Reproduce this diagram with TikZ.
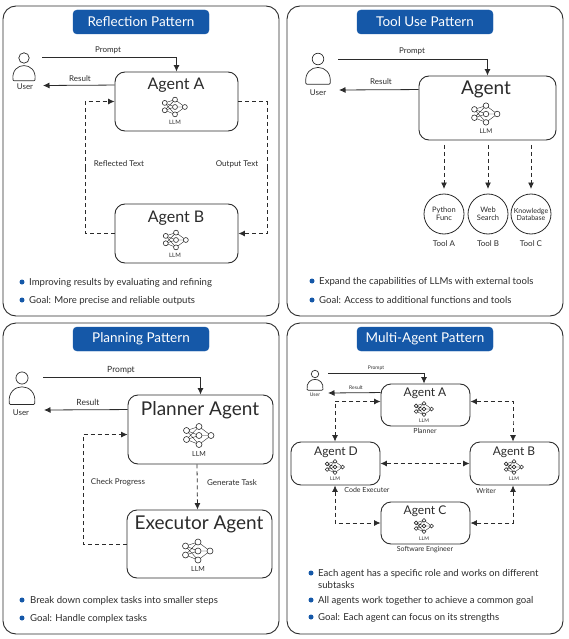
\documentclass[tikz,border=0pt]{standalone}
\usepackage{fontspec}
\setmainfont{Lato}
\usetikzlibrary{arrows.meta}

\definecolor{inkc}{HTML}{2B2B2B}
\definecolor{bluec}{HTML}{1558A8}

\newcommand{\fs}[1]{\fontsize{#1}{#1}\selectfont}

\tikzset{
    x=1pt, y=-1pt,
    panel/.style={draw=inkc, line width=0.9pt, rounded corners=13pt, minimum width=276pt, minimum height=#1, inner sep=0pt},
    banner/.style={fill=bluec, draw=bluec, rounded corners=4pt, minimum width=136pt, minimum height=24pt, inner sep=0pt, text=white, font=\fs{13.5}},
    agent/.style={draw=inkc, line width=0.9pt, rounded corners=10pt, inner sep=0pt},
    tool/.style={circle, draw=inkc, line width=0.8pt, minimum size=40pt, inner sep=0pt, align=center, font=\fs{7.5}, text=inkc},
    lbl/.style={text=inkc, inner sep=0pt, font=\fs{#1}},
    lbl/.default=8,
    tip/.style={circle, fill=bluec, minimum size=5pt, inner sep=0pt},
    tiptext/.style={anchor=base west, text=inkc, inner sep=0pt, font=\fs{9.6}},
    flow/.style={draw=inkc, line width=0.8pt, -{Latex[length=6.5pt,width=6pt]}},
    dashflow/.style={flow, dash pattern=on 4pt off 3pt},
    twoway/.style={dashflow, {Latex[length=6.5pt,width=6pt]}-{Latex[length=6.5pt,width=6pt]}},
    deadend/.style={draw=inkc, line width=0.8pt, dash pattern=on 4pt off 3pt},
    user/.pic={
        \draw[inkc, line width=0.7pt] (0,0) circle (5.5);
        \draw[inkc, line width=0.7pt, rounded corners=1pt] (-11.5,24) .. controls (-14,3) and (14,3) .. (11.5,24) -- cycle;
    },
    llm/.pic={
        \draw[inkc, line width=0.4pt]
            \foreach \a in {-5,4} { \foreach \b in {-9,0,9} { (-12.5,\a) -- (0,\b) } }
            \foreach \b in {-9,0,9} { (0,\b) -- (12,0) };
        \foreach \p/\q in {-12.5/-5, -12.5/4, 0/-9, 0/0, 0/9, 12/0}
            \draw[inkc, line width=0.6pt, fill=white] (\p,\q) circle (3);
    },
}

\begin{document}
\begin{tikzpicture}
    \useasboundingbox (0,0) rectangle (568,639);

    % panels
    \node[panel=310pt] (p1) at (141,161) {};
    \node[panel=310pt] (p2) at (425,161) {};
    \node[panel=311pt] (p3) at (141,478.5) {};
    \node[panel=311pt] (p4) at (425,478.5) {};
    \node[banner] (t1) at (141,22) {Reflection Pattern};
    \node[banner] (t2) at (425,22) {Tool Use Pattern};
    \node[banner] (t3) at (141,339) {Planning Pattern};
    \node[banner] (t4) at (425,339) {Multi-Agent Pattern};

    % reflection
    \pic[scale=.95] at (24,58) {user};
    \node[lbl] (ru) at (25,87) {User};
    \coordinate (rfrom) at (42,57.5);
    \coordinate (rto) at (43,85.5);
    \coordinate (rl) at (85,168);
    \coordinate (rr) at (267,168);
    \node[agent, minimum width=123pt, minimum height=59pt] (ra) at (176.5,101.5) {};
    \node[agent, minimum width=123pt, minimum height=59pt] (rb) at (176.5,233.5) {};
    \node[lbl=16] (ran) at (176,85) {Agent A};
    \node[lbl=16] (rbn) at (176,218) {Agent B};
    \pic[scale=.82] at (175,107) {llm};
    \pic[scale=.82] at (176,240) {llm};
    \node[lbl=6] (ral) at (175,122.5) {LLM};
    \node[lbl=6] (rbl) at (175,255.5) {LLM};
    \draw[flow] (rfrom) -| (ra.north);
    \draw[flow] ([yshift=-13.5pt]ra.north west) -- (rto);
    \draw[deadend] (rb.west) -| (rl);
    \draw[dashflow] (rl) |- (ra.west);
    \draw[deadend] (ra.east) -| (rr);
    \draw[dashflow] (rr) |- (rb.east);
    \node[lbl] (rp) at (108,50.5) {Prompt};
    \node[lbl] (rs) at (80,78.5) {Result};
    \node[lbl] (rt) at (119,164) {Reflected Text};
    \node[lbl] (ro) at (237,164) {Output Text};
    \node[tip] (r1) at (22,282) {};
    \node[tip] (r2) at (22,300) {};
    \node[tiptext] (r1t) at (29,285) {Improving results by evaluating and refining};
    \node[tiptext] (r2t) at (29,303) {Goal: More precise and reliable outputs};

    % tool use
    \pic[scale=1.05] at (318,59) {user};
    \node[lbl] (uu) at (318,92.5) {User};
    \coordinate (ufrom) at (338,59);
    \coordinate (uto) at (339,90);
    \node[agent, minimum width=137pt, minimum height=64pt] (ua) at (487.5,108) {};
    \node[lbl=19] (uan) at (486,89) {Agent};
    \pic[scale=.93] at (486,114) {llm};
    \node[lbl=6.5] (ual) at (486,131) {LLM};
    \node[tool] (ta) at (444,214) {Python\\Func};
    \node[tool] (tb) at (488,214) {Web\\Search};
    \node[tool, font=\fs{7}] (tc) at (531,214) {Knowledge\\Database};
    \node[lbl] (tal) at (444,244) {Tool A};
    \node[lbl] (tbl) at (488,244) {Tool B};
    \node[lbl] (tcl) at (531,244) {Tool C};
    \coordinate (ua1) at (444,145);
    \coordinate (ua2) at (488,145);
    \coordinate (ua3) at (531,145);
    \coordinate (ub1) at (444,189);
    \coordinate (ub2) at (488,189);
    \coordinate (ub3) at (531,189);
    \draw[flow] (ufrom) -| (ua.north);
    \draw[flow] ([yshift=-14pt]ua.north west) -- (uto);
    \draw[dashflow] (ua1) -- (ub1);
    \draw[dashflow] (ua2) -- (ub2);
    \draw[dashflow] (ua3) -- (ub3);
    \node[lbl] (up) at (412,51.5) {Prompt};
    \node[lbl] (us) at (381,82) {Result};
    \node[tip] (u1) at (312,281) {};
    \node[tip] (u2) at (312,300) {};
    \node[tiptext] (u1t) at (319,284.5) {Expand the capabilities of LLMs with external tools};
    \node[tiptext] (u2t) at (319,303.5) {Goal: Access to additional functions and tools};

    % planning
    \pic[scale=1.1] at (22,378) {user};
    \node[lbl] (lu) at (21,413) {User};
    \coordinate (lfrom) at (43,377);
    \coordinate (lto) at (44,410);
    \coordinate (ll) at (83,490);
    \node[agent, minimum width=145pt, minimum height=69pt] (la) at (200.5,429.5) {};
    \node[agent, minimum width=145pt, minimum height=68pt] (lb) at (199.5,544) {};
    \node[lbl=19] (lan) at (200,410) {Planner Agent};
    \node[lbl=19] (lbn) at (199,524) {Executor Agent};
    \pic at (199,435.5) {llm};
    \pic at (198,551) {llm};
    \node[lbl=7] (lal) at (199,454) {LLM};
    \node[lbl=7] (lbl) at (198,569) {LLM};
    \draw[flow] (lfrom) -| (la.north);
    \draw[flow] ([yshift=-15pt]la.north west) -- (lto);
    \draw[dashflow] (la.south -| lb.north) ++(-2.5pt,0) -- ([xshift=-2pt]lb.north);
    \draw[deadend] (lb.west) -| (ll);
    \draw[dashflow] (ll) |- ([yshift=-40pt]la.north west);
    \node[lbl=8.5] (lp) at (121,370) {Prompt};
    \node[lbl=8.5] (ls) at (88,402.5) {Result};
    \node[lbl] (lc) at (118,482.5) {Check Progress};
    \node[lbl] (lg) at (232,482.5) {Generate Task};
    \node[tip] (l1) at (22,600) {};
    \node[tip] (l2) at (22,618) {};
    \node[tiptext] (l1t) at (30,603.5) {Break down complex tasks into smaller steps};
    \node[tiptext] (l2t) at (30,621.5) {Goal: Handle complex tasks};

    % multi-agent
    \pic[scale=.68] at (315,374) {user};
    \node[lbl=5] (mu) at (315,395) {User};
    \coordinate (mfrom) at (328,373);
    \coordinate (mto) at (328,393);
    \coordinate (mdl) at (335,423);
    \coordinate (mbl) at (513,423);
    \coordinate (mdc) at (335,512);
    \coordinate (mbc) at (513,512);
    \node[agent, minimum width=89pt, minimum height=42pt] (ma) at (425.5,405) {};
    \node[agent, minimum width=89pt, minimum height=43pt] (md) at (335.5,463.5) {};
    \node[agent, minimum width=89pt, minimum height=43pt] (mb) at (514.5,463.5) {};
    \node[agent, minimum width=89pt, minimum height=42pt] (mc) at (425.5,523) {};
    \node[lbl=12] (man) at (425,393) {Agent A};
    \node[lbl=12] (mdn) at (336,452) {Agent D};
    \node[lbl=12] (mbn) at (514,452) {Agent B};
    \node[lbl=12] (mcn) at (425,511) {Agent C};
    \pic[scale=.63] at (424,409) {llm};
    \pic[scale=.63] at (335,467) {llm};
    \pic[scale=.63] at (514,467) {llm};
    \pic[scale=.63] at (424,526) {llm};
    \node[lbl=5] (mal) at (424,420.5) {LLM};
    \node[lbl=5] (mdl2) at (335,479) {LLM};
    \node[lbl=5] (mbl2) at (514,479) {LLM};
    \node[lbl=5] (mcl) at (424,538.5) {LLM};
    \draw[flow] (mfrom) -| ([xshift=-1.5pt]ma.north);
    \draw[flow] ([yshift=-9pt]ma.north west) -- (mto);
    \draw[twoway] (ma.west) ++(0,3.5pt) -| (mdl) -- (mdl |- md.north);
    \draw[twoway] (ma.east) ++(0,3.5pt) -| (mbl) -- (mbl |- mb.north);
    \draw[twoway] (md.east) -- (mb.west);
    \draw[twoway] (mdc |- md.south) |- (mc.west);
    \draw[twoway] (mbc |- mb.south) |- (mc.east);
    \node[lbl=5] (mp) at (376,368) {Prompt};
    \node[lbl=5] (ms) at (356,388) {Result};
    \node[lbl=7] (mar) at (425,431) {Planner};
    \node[lbl=7] (mdr) at (367,490) {Code Executer};
    \node[lbl=7] (mbr) at (486,490.5) {Writer};
    \node[lbl=7] (mcr) at (425,549.5) {Software Engineer};
    \node[tip] (m1) at (311,573) {};
    \node[tip] (m2) at (311,600) {};
    \node[tip] (m3) at (311,617) {};
    \node[tiptext] (m1t) at (318,576.5) {Each agent has a specific role and works on different};
    \node[tiptext] (m1s) at (318,588) {subtasks};
    \node[tiptext] (m2t) at (318,603.5) {All agents work together to achieve a common goal};
    \node[tiptext] (m3t) at (318,620.5) {Goal: Each agent can focus on its strengths};
\end{tikzpicture}
\end{document}
